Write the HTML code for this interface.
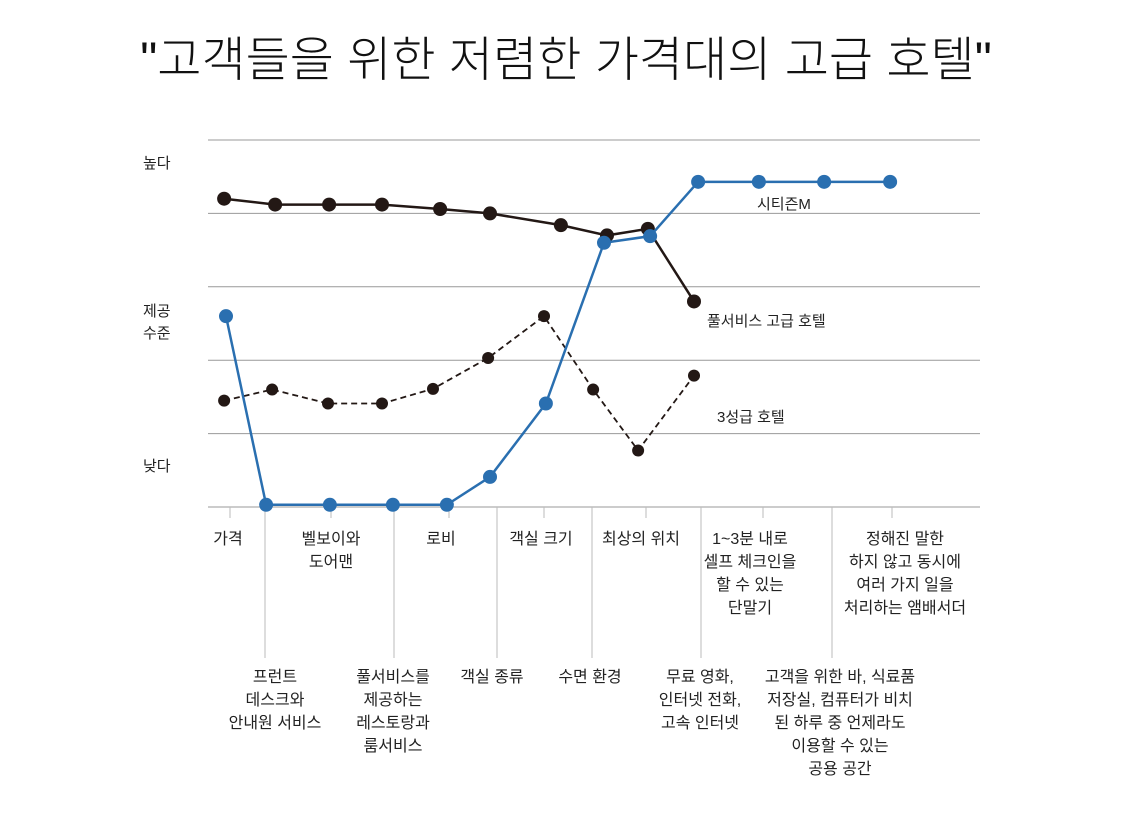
<!DOCTYPE html>
<html><head><meta charset="utf-8"><style>
body{margin:0;background:#fff;width:1124px;height:826px;overflow:hidden;font-family:"Liberation Sans","Noto Sans CJK KR",sans-serif;}
</style></head><body>
<svg width="1124" height="826" xmlns="http://www.w3.org/2000/svg" font-family="Liberation Sans, Noto Sans CJK KR, sans-serif">
<text x="566" y="76" text-anchor="middle" font-size="48" font-weight="300" fill="#111">"고객들을 위한 저렴한 가격대의 고급 호텔"</text>
<g id="grid"></g>
<g id="axis"></g>
<g id="series"></g>
<text x="143" y="168" font-size="15" fill="#222">높다</text>
<text x="143" y="316" font-size="15" fill="#222">제공</text>
<text x="143" y="338" font-size="15" fill="#222">수준</text>
<text x="143" y="471" font-size="15" fill="#222">낮다</text>
<text x="757" y="209" font-size="15" fill="#222">시티즌M</text>
<text x="707" y="326" font-size="15" fill="#222">풀서비스 고급 호텔</text>
<text x="717" y="422" font-size="15" fill="#222">3성급 호텔</text>
</svg>
<script>
const gridVals=[0,1,2,3,4,5];
const blackX=[0.43,1.79,3.23,4.64,6.19,7.52,9.41,10.64,11.73,12.96];
const blackY=[4.2,4.12,4.12,4.12,4.06,4.0,3.84,3.7,3.79,2.8];
const dashX=[0.43,1.71,3.2,4.64,6.0,7.47,8.96,10.27,11.47,12.96];
const dashY=[1.45,1.6,1.41,1.41,1.61,2.03,2.6,1.6,0.77,1.79];
const blueX=[0.48,1.55,3.25,4.93,6.37,7.52,9.01,10.56,11.79,13.07,14.69,16.43,18.19];
const blueY=[2.6,0.03,0.03,0.03,0.03,0.41,1.41,3.6,3.69,4.43,4.43,4.43,4.43];
const topLabels=[["가격"],["벨보이와","도어맨"],["로비"],["객실 크기"],["최상의 위치"],["1~3분 내로","셀프 체크인을","할 수 있는","단말기"],["정해진 말한","하지 않고 동시에","여러 가지 일을","처리하는 앰배서더"]];
const botLabels=[["프런트","데스크와","안내원 서비스"],["풀서비스를","제공하는","레스토랑과","룸서비스"],["객실 종류"],["수면 환경"],["무료 영화,","인터넷 전화,","고속 인터넷"],["고객을 위한 바, 식료품","저장실, 컴퓨터가 비치","된 하루 중 언제라도","이용할 수 있는","공용 공간"]];
const topPos=[228,331,441,541,641,750,905];
const botPos=[275,393,492,590,700,840];
const NS="http://www.w3.org/2000/svg";
const yS=v=>507-v*73.4;
const xC=p=>208+p*37.5;
function mk(t,a,parent){const e=document.createElementNS(NS,t);for(const k in a)e.setAttribute(k,a[k]);document.getElementById(parent).appendChild(e);return e;}
gridVals.forEach(v=>{const l=mk('line',{x1:208,x2:980,y1:yS(v),y2:yS(v),stroke:'#999','stroke-width':1},'grid');

});
[265,394,497,592,701,832].forEach(x=>{const l=mk('line',{x1:x,x2:x,y1:507,y2:658,stroke:'#bbb'},'axis');

});
[230,331,449,544,646,763,892].forEach(x=>{const l=mk('line',{x1:x,x2:x,y1:507,y2:518,stroke:'#bbb'},'axis');

});
topLabels.forEach((ls,i)=>ls.forEach((s,j)=>{const t=mk('text',{x:topPos[i],y:544+j*23,'text-anchor':'middle','font-size':16,fill:'#222'},'axis');t.textContent=s;

}));
botLabels.forEach((ls,i)=>ls.forEach((s,j)=>{const t=mk('text',{x:botPos[i],y:682+j*23,'text-anchor':'middle','font-size':16,fill:'#222'},'axis');t.textContent=s;

}));
function series(X,Y,color,dash,name){
 const p=mk('polyline',{points:X.map((x,i)=>xC(x)+','+yS(Y[i])).join(' '),fill:'none',stroke:color,'stroke-width':dash?1.8:2.5,'stroke-dasharray':dash?'6,4':'none'},'series');
 
 
 X.forEach((x,i)=>{const c=mk('circle',{cx:xC(x),cy:yS(Y[i]),r:dash?6:7,fill:color},'series');
 
 });
}
series(dashX,dashY,'#231815',true,'three-star');
series(blackX,blackY,'#231815',false,'full-service');
series(blueX,blueY,'#2a6fb0',false,'citizenm');
</script>
</body></html>
